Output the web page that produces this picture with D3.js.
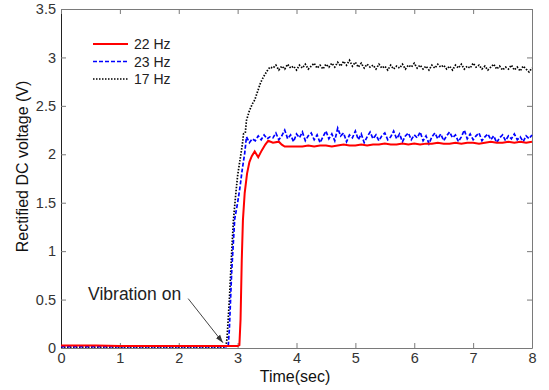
<!DOCTYPE html>
<html>
<head>
<meta charset="utf-8">
<script src="https://cdn.jsdelivr.net/npm/d3@7"></script>
<style>
  body { margin: 0; background: #fff; }
  text { font-family: Arial, "Liberation Sans", sans-serif; }
</style>
</head>
<body>
<script>
let width = 549,
    height = 390,
    margin = {top: 9, right: 17, bottom: 42, left: 61};

// x ticks and y ticks
let xTicks = [0, 1, 2, 3, 4, 5, 6, 7, 8];
let yTicks = [0, 0.5, 1, 1.5, 2, 2.5, 3, 3.5];

// 22 Hz - idle level and rise (time, volts)
let redT = [0, 0.6, 1.0, 2.0, 2.9, 3.0, 3.03, 3.05, 3.07, 3.09, 3.12, 3.16, 3.2, 3.24, 3.29, 3.35, 3.41, 3.47, 3.52, 3.6, 3.7, 3.75, 3.8, 3.9];
let redV = [0.025, 0.025, 0.02, 0.02, 0.02, 0.02, 0.03, 0.3, 0.9, 1.32, 1.6, 1.8, 1.92, 1.98, 2.03, 1.97, 2.04, 2.10, 2.14, 2.12, 2.13, 2.10, 2.08, 2.08];
// 22 Hz - plateau sampled every 0.1 s from 4.0 s
let redPlateau = [2.08, 2.08, 2.09, 2.08, 2.09, 2.09, 2.08, 2.09, 2.10, 2.09,
                  2.09, 2.10, 2.09, 2.10, 2.10, 2.11, 2.10, 2.10, 2.11, 2.10,
                  2.11, 2.10, 2.11, 2.11, 2.12, 2.11, 2.11, 2.12, 2.11, 2.12,
                  2.12, 2.11, 2.12, 2.13, 2.12, 2.12, 2.13, 2.12, 2.13, 2.12,
                  2.13];

// 23 Hz
let blueT = [0, 1.0, 2.0, 2.84, 2.86, 2.9, 2.95, 3.0, 3.04, 3.08, 3.12, 3.15, 3.2, 3.25, 3.3, 3.35, 3.4, 3.45, 3.5, 3.55];
let blueV = [0.015, 0.015, 0.015, 0.015, 0.2, 0.8, 1.33, 1.5, 1.66, 1.85, 2.01, 2.18, 2.12, 2.16, 2.14, 2.19, 2.15, 2.20, 2.16, 2.18];
// 23 Hz - plateau sampled every 0.05 s from 3.6 s
let bluePlateau = [2.17, 2.22, 2.15, 2.19, 2.25, 2.16, 2.20, 2.13, 2.21, 2.17,
                   2.23, 2.14, 2.19, 2.22, 2.15, 2.20, 2.12, 2.18, 2.24, 2.16,
                   2.21, 2.14, 2.27, 2.19, 2.22, 2.13, 2.20, 2.17, 2.24, 2.15,
                   2.21, 2.12, 2.18, 2.23, 2.16, 2.20, 2.14, 2.19, 2.22, 2.15,
                   2.18, 2.24, 2.16, 2.21, 2.13, 2.19, 2.22, 2.15, 2.20, 2.17,
                   2.23, 2.14, 2.19, 2.11, 2.18, 2.22, 2.16, 2.21, 2.14, 2.19,
                   2.23, 2.17, 2.20, 2.13, 2.18, 2.25, 2.16, 2.21, 2.15, 2.19,
                   2.22, 2.14, 2.18, 2.21, 2.15, 2.19, 2.12, 2.17, 2.20, 2.14,
                   2.19, 2.16, 2.21, 2.15, 2.18, 2.13, 2.19, 2.16, 2.20];

// 17 Hz
let blackT = [0, 1.0, 2.0, 2.8, 2.82, 2.86, 2.9, 2.93, 2.97, 3.0, 3.04, 3.08, 3.1, 3.13, 3.15, 3.2, 3.25, 3.29, 3.34, 3.39, 3.44, 3.5, 3.55];
let blackV = [0.01, 0.01, 0.01, 0.01, 0.1, 0.5, 1.0, 1.33, 1.6, 1.78, 1.94, 2.1, 2.21, 2.22, 2.35, 2.45, 2.52, 2.56, 2.65, 2.74, 2.80, 2.86, 2.90];
// 17 Hz - plateau sampled every 0.05 s from 3.6 s
let blackPlateau = [2.89, 2.92, 2.87, 2.91, 2.88, 2.93, 2.89, 2.91, 2.87, 2.92,
                    2.89, 2.93, 2.88, 2.91, 2.94, 2.89, 2.92, 2.88, 2.93, 2.90,
                    2.94, 2.90, 2.95, 2.91, 2.96, 2.92, 2.97, 2.91, 2.95, 2.90,
                    2.94, 2.89, 2.93, 2.90, 2.92, 2.88, 2.93, 2.89, 2.91, 2.87,
                    2.92, 2.88, 2.91, 2.89, 2.93, 2.88, 2.92, 2.90, 2.94, 2.89,
                    2.92, 2.88, 2.91, 2.87, 2.92, 2.89, 2.93, 2.90, 2.92, 2.88,
                    2.91, 2.87, 2.92, 2.89, 2.93, 2.88, 2.91, 2.89, 2.94, 2.90,
                    2.92, 2.88, 2.91, 2.87, 2.90, 2.93, 2.88, 2.91, 2.87, 2.90,
                    2.88, 2.92, 2.87, 2.90, 2.86, 2.91, 2.88, 2.85, 2.89];

let seriesNames = ["22 Hz", "23 Hz", "17 Hz"];

function build(ts, vs, plateau, start, step) {
  let pts = ts.map(function(t, i) { return [t, vs[i]]; });
  plateau.forEach(function(v, i) { pts.push([+(start + i * step).toFixed(3), v]); });
  return pts;
}

let series = [
  {name: seriesNames[0], color: "#ff0000", width: 2, dash: null, pts: build(redT, redV, redPlateau, 4.0, 0.1)},
  {name: seriesNames[1], color: "#0000ff", width: 1.7, dash: "4,2", pts: build(blueT, blueV, bluePlateau, 3.6, 0.05)},
  {name: seriesNames[2], color: "#000000", width: 1.7, dash: "1.5,1.5", pts: build(blackT, blackV, blackPlateau, 3.6, 0.05)}
];

let svg = d3.select("body")
            .append("svg")
            .attr("width", width)
            .attr("height", height);

let xScale = d3.scaleLinear().domain([0, 8]).range([margin.left, width - margin.right]);
let yScale = d3.scaleLinear().domain([0, 3.5]).range([height - margin.bottom, margin.top]);

// frame axes, ticks pointing inward
let xAxis = d3.axisBottom(xScale).tickValues(xTicks).tickFormat(d3.format("d")).tickSizeInner(-5).tickSizeOuter(0).tickPadding(5);
let yAxis = d3.axisLeft(yScale).tickValues(yTicks).tickFormat(function(d) { return d; }).tickSizeInner(-5).tickSizeOuter(0).tickPadding(5);

let gx = svg.append("g")
   .attr("transform", "translate(0," + (height - margin.bottom) + ")")
   .call(xAxis);
let gy = svg.append("g")
   .attr("transform", "translate(" + margin.left + ",0)")
   .call(yAxis);
svg.append("g")
   .attr("transform", "translate(0," + margin.top + ")")
   .call(d3.axisTop(xScale).tickValues(xTicks).tickFormat("").tickSizeInner(-5).tickSizeOuter(0));
svg.append("g")
   .attr("transform", "translate(" + (width - margin.right) + ",0)")
   .call(d3.axisRight(yScale).tickValues(yTicks).tickFormat("").tickSizeInner(-5).tickSizeOuter(0));

svg.selectAll(".domain, .tick line").attr("stroke", "#7a7a7a");
gy.select(".domain").attr("stroke", "#222");
svg.selectAll(".tick text").attr("font-size", 14.5).attr("fill", "#333");

// lines
let line = d3.line()
  .x(function(d) { return xScale(d[0]); })
  .y(function(d) { return yScale(d[1]); });

svg.selectAll(".series")
   .data(series.slice().reverse())
   .enter()
   .append("path")
   .attr("fill", "none")
   .attr("stroke", function(d) { return d.color; })
   .attr("stroke-width", function(d) { return d.width; })
   .attr("stroke-dasharray", function(d) { return d.dash; })
   .attr("d", function(d) { return line(d.pts); });

// legend
let legend = svg.selectAll(".legend")
   .data(series)
   .enter()
   .append("g")
   .attr("transform", function(d, i) { return "translate(93," + (44 + i * 17.5) + ")"; });
legend.append("line")
   .attr("x1", 0).attr("x2", 35)
   .attr("stroke", function(d) { return d.color; })
   .attr("stroke-width", function(d) { return d.width; })
   .attr("stroke-dasharray", function(d) { return d.dash; });
legend.append("text")
   .attr("x", 41).attr("y", 5)
   .attr("font-size", 14)
   .attr("fill", "#222")
   .text(function(d) { return d.name; });

// annotation
svg.append("defs").append("marker")
   .attr("id", "arrow")
   .attr("viewBox", "0 0 10 10")
   .attr("refX", 10).attr("refY", 5)
   .attr("markerWidth", 8).attr("markerHeight", 8)
   .attr("orient", "auto")
   .append("path")
   .attr("d", "M0,1.5 L10,5 L0,8.5 Z")
   .attr("fill", "#333");

svg.append("line")
   .attr("x1", xScale(2.16)).attr("y1", yScale(0.51))
   .attr("x2", xScale(2.75)).attr("y2", yScale(0.055))
   .attr("stroke", "#444")
   .attr("stroke-width", 1)
   .attr("marker-end", "url(#arrow)");

svg.append("text")
   .attr("x", xScale(0.46)).attr("y", 300)
   .attr("font-family", "'DejaVu Sans', Verdana, sans-serif")
   .attr("font-size", 17.5)
   .attr("fill", "#222")
   .text("Vibration on");

// axis titles
svg.append("text")
   .attr("x", 295).attr("y", 381.5)
   .attr("text-anchor", "middle")
   .attr("font-size", 16)
   .attr("fill", "#111")
   .text("Time(sec)");

svg.append("text")
   .attr("transform", "translate(28,166.5) rotate(-90)")
   .attr("text-anchor", "middle")
   .attr("font-size", 16)
   .attr("fill", "#111")
   .text("Rectified DC voltage (V)");
</script>
</body>
</html>
